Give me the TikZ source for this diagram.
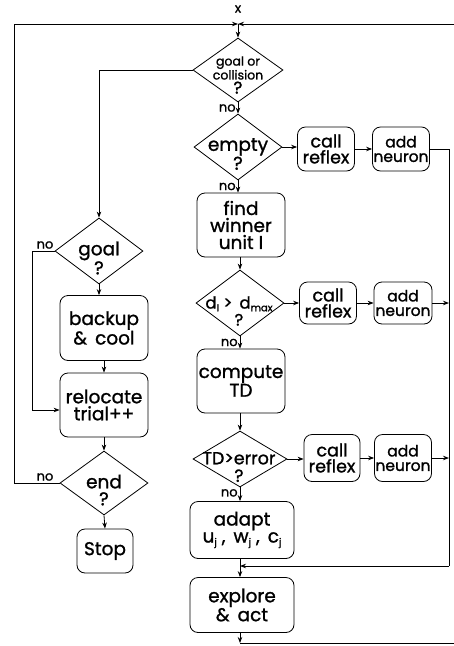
\documentclass[tikz,border=0pt]{standalone}
\usepackage{fontspec}
\setmainfont{Poppins}[FakeBold=1.2]
\usetikzlibrary{shapes.geometric,arrows.meta}
\newcommand{\lowsub}[1]{\raisebox{-0.3ex}{\fontsize{10}{10}\selectfont #1}}
\begin{document}
\begin{tikzpicture}[x=1pt,y=-1pt,
  line width=0.8pt,
  arr/.style={-{Stealth[length=6pt,width=4.5pt]}},
  box/.style={draw,rounded corners=8pt,inner sep=0pt,align=center,
    font=\fontsize{18.5}{17}\selectfont},
  dia/.style={draw,diamond,inner sep=0pt},
  dtext/.style={align=center,inner sep=0pt,font=\fontsize{18.5}{17}\selectfont},
  small/.style={align=center,inner sep=0pt,font=\fontsize{12.5}{11}\selectfont},
  addbox/.style={box,font=\fontsize{15.5}{14.5}\selectfont},
  callbox/.style={box,font=\fontsize{17.5}{16}\selectfont},
  lbl/.style={inner sep=0pt,font=\fontsize{13}{12}\selectfont}]
\useasboundingbox (0,0) rectangle (454,646);

% ---- entry point
\node[lbl] (xin) at (238,9) {x};
\coordinate (top) at (238,24);
\coordinate (topL) at (14,24);
\coordinate (topR) at (454,24);

% ---- main column
\node[dia,minimum width=90pt,minimum height=64pt] (d1) at (238,70) {};
\node[small] (d1t) at (238,75) {goal or\\collision\\[1pt]{\fontsize{17}{15}\selectfont ?}};

\node[dia,minimum width=88pt,minimum height=66pt] (d2) at (238,147) {};
\node[dtext] (d2t) at (238,154) {empty\\?};

\node[box,minimum width=88pt,minimum height=64pt] (find) at (241,225) {find\\winner\\unit I};

\node[dia,minimum width=88pt,minimum height=66pt] (d3) at (240,303) {};
\node[dtext,font=\fontsize{16.5}{17}\selectfont] (d3t) at (239,311) {d\lowsub{I} >\, d\lowsub{max}\\?};

\node[box,minimum width=88pt,minimum height=64pt] (comp) at (241,381) {compute\\TD};

\node[dia,minimum width=94pt,minimum height=56pt] (d4) at (240,459) {};
\node[dtext,font=\fontsize{17.5}{17.5}\selectfont] (d4t) at (239,467) {TD>error\\?};

\node[box,minimum width=104pt,minimum height=57pt] (adapt) at (242,530) {adapt\\u\lowsub{j} ,\, w\lowsub{j} ,\, c\lowsub{j}};

\node[box,minimum width=104pt,minimum height=55pt] (expl) at (242,605) {explore\\\& \,act};

% ---- reflex branches
\node[callbox,minimum width=57pt,minimum height=44pt] (cr1) at (326,149) {call\\reflex};
\node[addbox,minimum width=57pt,minimum height=44pt] (an1) at (401,149) {add\\neuron};
\node[callbox,minimum width=57pt,minimum height=42pt] (cr2) at (328,303) {call\\reflex};
\node[addbox,minimum width=58pt,minimum height=42pt] (an2) at (403,303) {add\\neuron};
\node[callbox,minimum width=56pt,minimum height=47pt] (cr3) at (332,458) {call\\reflex};
\node[addbox,minimum width=57pt,minimum height=47pt] (an3) at (403,458) {add\\neuron};

% ---- left column
\node[dia,minimum width=88pt,minimum height=66pt] (goal) at (99,251) {};
\node[dtext] (goalt) at (99,258) {goal\\?};
\node[box,minimum width=88pt,minimum height=65pt] (back) at (104,328) {backup\\\& \,cool};
\node[box,minimum width=88pt,minimum height=64pt] (reloc) at (104,405) {relocate\\trial++};
\node[dia,minimum width=88pt,minimum height=64pt] (end) at (104,483) {};
\node[dtext] (endt) at (104,490) {end\\?};
\node[box,minimum width=56pt,minimum height=44pt] (stop) at (105,551) {Stop};

% ---- routing points
\coordinate (rtop) at (449,149);
\coordinate (rbot) at (449,566);
\coordinate (mj) at (240,566);
\coordinate (exit) at (240,643);
\coordinate (exitR) at (454,643);
\coordinate (gl) at (32,251);
\coordinate (glb) at (32,410);
\coordinate (el) at (14,483);

% ---- connectors: entry
\draw[arr] (topL) -- (top);
\draw[arr] (topR) -- (top);
\draw[arr] (top) -- (d1.north);
\draw (el) -- (topL);

% ---- main column flow
\draw[arr] (d1.south) -- (d2.north) node[lbl,pos=0.5,left=2pt] (n1) {no};
\draw[arr] (d2.south) -- (find.north -| d2.south) node[lbl,pos=0.5,left=2pt] (n2) {no};
\draw[arr] (find.south -| d3.north) -- (d3.north);
\draw[arr] (d3.south) -- (comp.north -| d3.south) node[lbl,pos=0.5,left=2pt] (n3) {no};
\draw[arr] (comp.south -| d4.north) -- (d4.north);
\draw[arr] (d4.south) -- (adapt.north -| d4.south) node[lbl,pos=0.4,left=2pt] (n4) {no};
\draw[arr] (adapt.south -| mj) -- (expl.north -| mj);
\draw[arr] (expl.south -| exit) -- (exit);
\draw (exit) -- (exitR);

% ---- reflex branches
\draw[arr] (d2.east) -- (cr1.west |- d2.east);
\draw[arr] (cr1.east) -- (an1.west);
\draw (an1.east) -- (rtop) -- (rbot);
\draw[arr] (rbot) -- (mj);
\draw[arr] (d3.east) -- (cr2.west |- d3.east);
\draw[arr] (cr2.east) -- (an2.west);
\draw[arr] (an2.east) -- (an2.east -| rtop);
\draw[arr] (d4.east) -- (cr3.west |- d4.east);
\draw[arr] (cr3.east) -- (an3.west);
\draw[arr] (an3.east) -- (an3.east -| rtop);

% ---- left column flow
\draw[arr] (d1.west) -| (goal.north);
\draw[arr] (goal.south) -- (back.north -| goal.south);
\draw[arr] (back.south -| reloc.north) -- (reloc.north);
\draw[arr] (goal.west) -- (gl) -- (glb) -- (glb -| reloc.west);
\node[lbl] (n5) at (45,245) {no};
\draw[arr] (reloc.south) -- (end.north);
\draw (end.west) -- (el);
\node[lbl] (n6) at (45,477) {no};
\draw[arr] (end.south) -- (stop.north);
\end{tikzpicture}
\end{document}
